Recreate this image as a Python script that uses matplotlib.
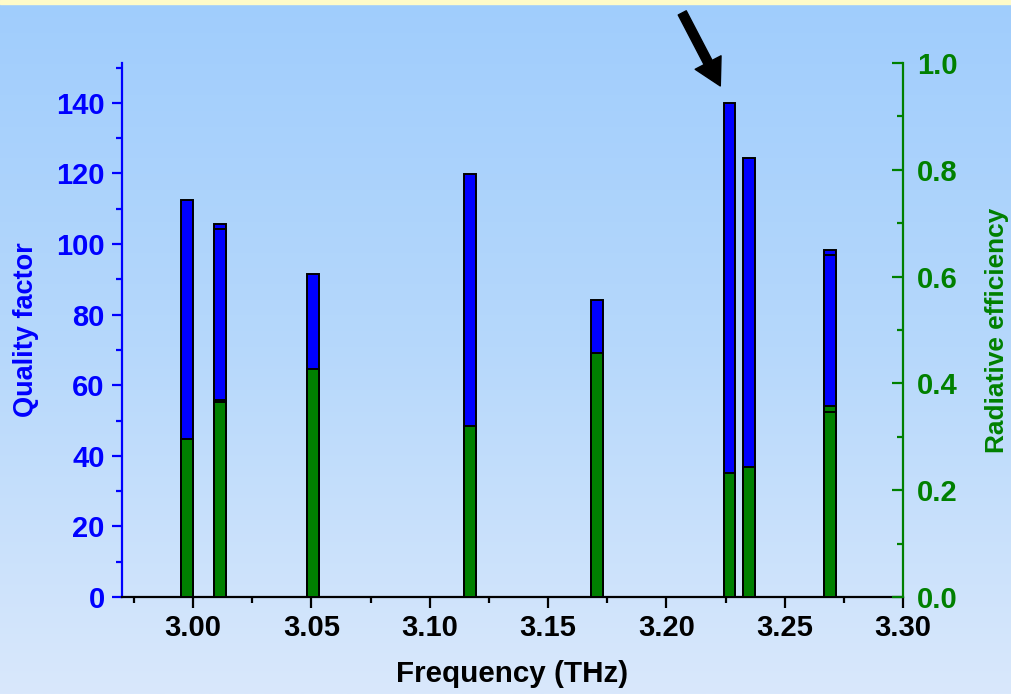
import numpy as np
import matplotlib
matplotlib.use("Agg")
import matplotlib.pyplot as plt
from matplotlib.ticker import MultipleLocator
from matplotlib.colors import LinearSegmentedColormap

plt.rcParams["font.family"] = ["Liberation Sans", "DejaVu Sans"]
plt.rcParams["font.weight"] = "bold"

# modes: frequency (THz), quality factor, radiative efficiency
FREQ = [2.9975, 3.0113, 3.0115, 3.0506, 3.1172, 3.1708, 3.2267, 3.2350, 3.2691, 3.2693]
QF = [112.6, 105.6, 104.4, 91.5, 119.9, 84.2, 140.0, 124.5, 98.4, 97.0]
EFF = [0.295, 0.368, 0.366, 0.427, 0.320, 0.457, 0.233, 0.244, 0.358, 0.346]

BLUE = "#0000ff"
GREEN = "#008000"
W, H = 1011, 694

fig = plt.figure(figsize=(W / 100, H / 100), dpi=100)

# gradient background + thin yellow strip on top
bg = fig.add_axes([0, 0, 1, 1], zorder=-10)
grad = LinearSegmentedColormap.from_list("bg", ["#a0cdfd", "#b6d8fb", "#d9e8fc"])
bg.imshow(np.linspace(0, 1, 256)[:, None], aspect="auto", cmap=grad,
          extent=[0, 1, 0, 1], origin="upper")
bg.axhspan(1 - 4 / H, 1, color="#fffbc8")
bg.set_xlim(0, 1); bg.set_ylim(0, 1); bg.axis("off")

ax = fig.add_axes([122 / W, 1 - 597 / H, (903 - 122) / W, (597 - 63) / H])
ax.patch.set_alpha(0)
ax2 = ax.twinx()

# blue quality-factor bars behind, green efficiency bars in front
ax.bar(FREQ, QF, width=0.005, color=BLUE, edgecolor="black", linewidth=1.4, zorder=2)
ax2.bar(FREQ, EFF, width=0.005, color=GREEN, edgecolor="black", linewidth=1.4, zorder=3)

ax.set_xlim(2.97, 3.30)
ax.set_ylim(0, 151.3)
ax2.set_ylim(0, 1.0)

ax.xaxis.set_major_locator(MultipleLocator(0.05))
ax.xaxis.set_minor_locator(MultipleLocator(0.025))
ax.yaxis.set_major_locator(MultipleLocator(20))
ax.yaxis.set_minor_locator(MultipleLocator(10))
ax2.yaxis.set_major_locator(MultipleLocator(0.2))
ax2.yaxis.set_minor_locator(MultipleLocator(0.1))
ax.xaxis.set_major_formatter(lambda v, p: f"{v:.2f}")
ax2.yaxis.set_major_formatter(lambda v, p: f"{v:.1f}")

for a in (ax, ax2):
    a.spines["top"].set_visible(False)
    for s in a.spines.values():
        s.set_linewidth(1.6)
ax.spines["left"].set_color(BLUE)
ax.spines["bottom"].set_color("black")
ax.spines["right"].set_visible(False)
ax2.spines["left"].set_visible(False)
ax2.spines["bottom"].set_visible(False)
ax2.spines["right"].set_color(GREEN)

ax.tick_params(axis="x", which="major", direction="out", length=8, width=1.6,
               colors="black", labelsize=21, pad=4)
ax.tick_params(axis="x", which="minor", direction="out", length=4.5, width=1.6, colors="black")
ax.tick_params(axis="y", which="major", direction="out", length=7.5, width=1.6,
               colors=BLUE, labelsize=21, pad=5)
ax.tick_params(axis="y", which="minor", direction="out", length=4.5, width=1.6, colors=BLUE)
ax2.tick_params(axis="y", which="major", direction="in", length=8, width=1.6,
                colors=GREEN, labelsize=21, pad=10)
ax2.tick_params(axis="y", which="minor", direction="in", length=4.5, width=1.6, colors=GREEN)

ax.set_xlabel("Frequency (THz)", fontsize=21.3, fontweight="bold", color="black", labelpad=13)
ax.set_ylabel("Quality factor", fontsize=19.5, fontweight="bold", color=BLUE, labelpad=12)
ax2.set_ylabel("Radiative efficiency", fontsize=18.9, fontweight="bold", color=GREEN, labelpad=20)

# arrow pointing at the highest-Q mode
i = int(np.argmax(QF))
ax.annotate("", xy=(FREQ[i] - 0.0039, QF[i] + 4.8), xytext=(-27.4, 52.6),
            textcoords="offset points", annotation_clip=False,
            arrowprops=dict(facecolor="black", edgecolor="black", width=6.5,
                            headwidth=21, headlength=19))

fig.savefig("out.png", dpi=100)
